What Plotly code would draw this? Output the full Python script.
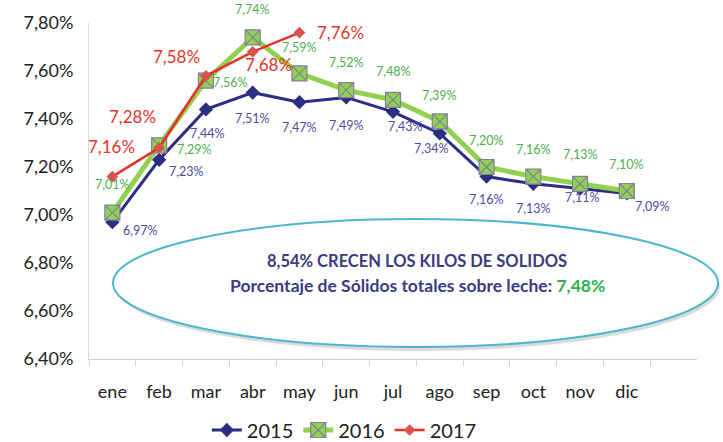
import plotly.graph_objects as go

months = ["ene", "feb", "mar", "abr", "may", "jun", "jul", "ago", "sep", "oct", "nov", "dic", ""]
s2015 = [6.97, 7.23, 7.44, 7.51, 7.47, 7.49, 7.43, 7.34, 7.16, 7.13, 7.11, 7.09]
s2016 = [7.01, 7.29, 7.56, 7.74, 7.59, 7.52, 7.48, 7.39, 7.20, 7.16, 7.13, 7.10]
s2017 = [7.16, 7.28, 7.58, 7.68, 7.76]
y_ticks = [6.40, 6.60, 6.80, 7.00, 7.20, 7.40, 7.60, 7.80]

# label offsets (pixels) per point
off2015 = [(28, -8), (27, -12), (2, -24), (0, -26), (0, -25), (0, -28), (12, -15), (-8, -15),
           (0, -23), (0, -25), (2, -9), (26, -13)]
off2016 = [(0, 28), (35, -4), (25, -2), (0, 28), (0, 26), (0, 28), (0, 28), (0, 26),
           (0, 27), (0, 27), (0, 29), (0, 27)]
off2017 = [(-1, 30), (-27, 31), (-29, 19), (16, -13), (41, 0)]

def fmt(v):
    return f"{v:.2f}%".replace(".", ",")

FONT = "Lato"
fig = go.Figure()

fig.add_trace(go.Scatter(x=months[:12], y=s2015, name="2015", mode="lines+markers",
                         line=dict(color="#2B2E83", width=3),
                         marker=dict(symbol="diamond", size=11, color="#2B2E83")))
fig.add_trace(go.Scatter(x=months[:12], y=s2016, name="2016", mode="lines+markers",
                         line=dict(color="#92D050", width=5),
                         marker=dict(symbol="square-x", size=15, color="#92D050",
                                     line=dict(color="#7F7FA0", width=1.2))))
fig.add_trace(go.Scatter(x=months[:5], y=s2017, name="2017", mode="lines+markers",
                         line=dict(color="#E8302A", width=2.5),
                         marker=dict(symbol="diamond", size=9, color="#D9544F")))

ann = []
for vals, offs, col, size in [(s2015, off2015, "#4B4B9B", 12.5), (s2016, off2016, "#4CAE4C", 12.5),
                              (s2017, off2017, "#E2352B", 17)]:
    for i, v in enumerate(vals):
        ann.append(dict(x=months[i], y=v, text=fmt(v), showarrow=False,
                        xshift=offs[i][0], yshift=offs[i][1],
                        font=dict(family=FONT, size=size, color=col)))

# ellipse text
ann.append(dict(xref="paper", yref="paper", x=(417 - 89) / 608, y=(359 - 273) / 336,
                text="<b>8,54% CRECEN LOS KILOS DE SOLIDOS</b>", showarrow=False,
                font=dict(family=FONT, size=16.5, color="#3B3B7E")))
ann.append(dict(xref="paper", yref="paper", x=(417 - 89) / 608, y=(359 - 298) / 336,
                text="<b>Porcentaje de Sólidos totales sobre leche: <span style='color:#2DB04B'>7,48%</span></b>",
                showarrow=False, font=dict(family=FONT, size=17.5, color="#3B3B7E")))

def px2paper(x0, y0, x1, y1):
    return dict(x0=(x0 - 89) / 608, x1=(x1 - 89) / 608, y0=(359 - y1) / 336, y1=(359 - y0) / 336)

shapes = [
    dict(type="circle", xref="paper", yref="paper", layer="below",
         fillcolor="rgba(150,150,150,0.35)", line=dict(width=0),
         **px2paper(115, 222, 720, 351)),
    dict(type="circle", xref="paper", yref="paper", layer="below",
         fillcolor="white", line=dict(color="#4DB6CC", width=2),
         **px2paper(113, 219, 718, 347)),
]

fig.update_layout(
    width=723, height=442,
    margin=dict(l=89, r=26, t=23, b=83, autoexpand=False),
    paper_bgcolor="white", plot_bgcolor="white",
    separators=", ",
    font=dict(family=FONT, size=17, color="#222222"),
    showlegend=True,
    legend=dict(orientation="h", x=0.42, xanchor="center", xref="paper",
                yref="container", y=(442 - 430) / 442, yanchor="middle",
                font=dict(family=FONT, size=20, color="#222222"), itemwidth=30),
    xaxis=dict(type="category", categoryarray=months, range=[-0.5, 12.5],
               showgrid=False, showline=True, linecolor="#D0D0D0", linewidth=1,
               ticks="outside", ticklen=6, tickcolor="#D0D0D0", tickson="boundaries",
               tickvals=months[:12], ticktext=months[:12], zeroline=False,
               ticklabelstandoff=16, automargin=False,
               tickfont=dict(family=FONT, size=18, color="#222222")),
    yaxis=dict(range=[6.4, 7.8], tickvals=y_ticks, ticktext=[fmt(v) for v in y_ticks],
               showgrid=False, showline=True, linecolor="#D9D9D9", linewidth=1,
               ticks="", zeroline=False, automargin=False, ticklabelstandoff=11,
               tickfont=dict(family=FONT, size=18, color="#222222")),
    annotations=ann,
    shapes=shapes,
)

fig.write_html("out.html", config={"displayModeBar": False},
               post_script="document.body.style.margin='0';document.body.style.overflow='hidden';")
